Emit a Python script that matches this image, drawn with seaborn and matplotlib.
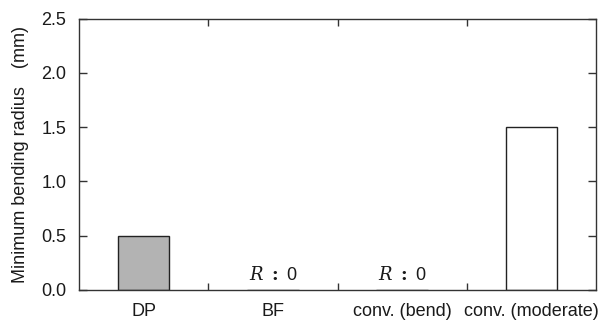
import matplotlib
matplotlib.use("Agg")
import matplotlib.pyplot as plt
import seaborn as sns
import pandas as pd
from matplotlib.ticker import FixedLocator

categories = ["DP", "BF", "conv. (bend)", "conv. (moderate)"]
values = [0.5, 0.0, 0.0, 1.5]
bar_colors = ["#b3b3b3", "#ffffff", "#ffffff", "#ffffff"]
zero_labels = ["", "R : 0", "R : 0", ""]
y_ticks = [0.0, 0.5, 1.0, 1.5, 2.0, 2.5]

sns.set_theme(style="white")
plt.rcParams['font.family'] = ['Liberation Sans', 'Noto Sans CJK JP', 'DejaVu Sans']
plt.rcParams['mathtext.fontset'] = 'dejavuserif'

df = pd.DataFrame({"cat": categories, "val": values})

fig = plt.figure(figsize=(6.05, 3.21), dpi=100)
ax = fig.add_axes([79/605, 1 - 290/321, (596-79)/605, (290-18.7)/321])

sns.barplot(data=df, x="cat", y="val", hue="cat", palette=bar_colors, legend=False,
            width=0.4, edgecolor="#222222", linewidth=1.0, ax=ax, saturation=1)

FS = 13
ax.set_xlim(-0.5, 3.5)
ax.set_ylim(0, 2.5)
ax.set_yticks(y_ticks)
ax.set_yticklabels([f"{t:.1f}" for t in y_ticks], fontsize=FS, color="#1a1a1a")
ax.set_xticks(range(len(categories)))
ax.set_xticklabels(categories, fontsize=FS, color="#1a1a1a")
ax.xaxis.set_minor_locator(FixedLocator([0.5, 1.5, 2.5]))
ax.tick_params(axis="x", which="major", length=0, pad=9)
ax.tick_params(axis="x", which="minor", direction="in", length=5, top=True, bottom=True,
               color="#333333", width=1)
ax.tick_params(axis="y", which="major", direction="in", length=6, left=True, right=True,
               color="#333333", width=1, pad=9)
ax.set_xlabel("")
ax.set_ylabel("Minimum bending radius\u3000(mm)", fontsize=FS, color="#1a1a1a", labelpad=9)

for s in ax.spines.values():
    s.set_visible(True)
    s.set_color("#333333")
    s.set_linewidth(1.0)

for i, lab in enumerate(zero_labels):
    if lab:
        ax.text(i, 0.09, r"$R$ $\mathbf{:}$ 0", ha="center", va="baseline", fontsize=FS,
                color="#1a1a1a")

fig.savefig("out.png", dpi=100)
